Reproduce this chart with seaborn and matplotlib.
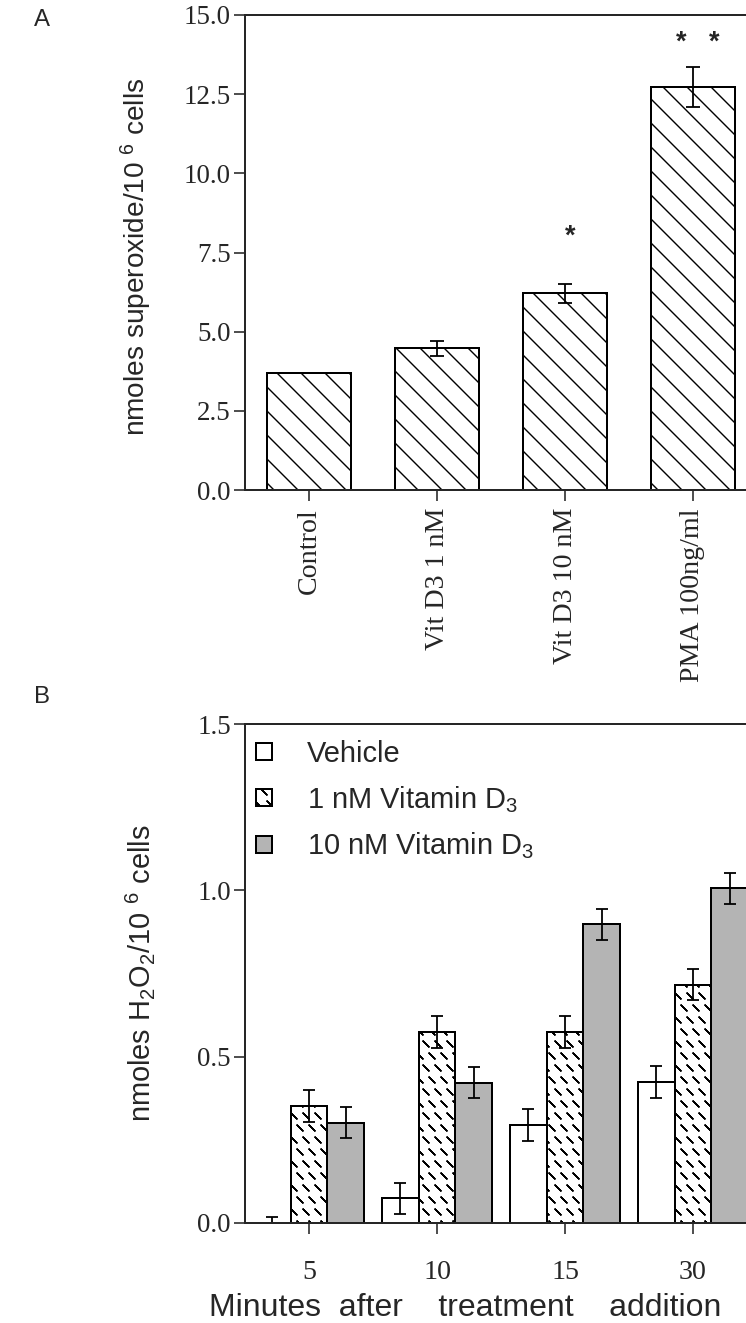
import warnings
import numpy as np
import pandas as pd
import matplotlib
matplotlib.use("Agg")
import matplotlib.pyplot as plt
import matplotlib.hatch as mhatch
from matplotlib.path import Path
from matplotlib.ticker import FormatStrFormatter
import seaborn as sns

warnings.filterwarnings("ignore")

# Panel A: superoxide production
treatments_a = ["Control", "Vit D3 1 nM", "Vit D3 10 nM", "PMA 100ng/ml"]
superoxide = [3.70, 4.47, 6.22, 12.72]
superoxide_err = [0.0, 0.24, 0.30, 0.63]
stars_a = ["", "", "*", "*   *"]
star_y = [0.0, 0.0, 8.0, 14.1]

# Panel B: H2O2 production over time
minutes = ["5", "10", "15", "30"]
groups_b = ["Vehicle", "1 nM Vitamin D$_3$", "10 nM Vitamin D$_3$"]
vehicle = [0.0, 0.074, 0.294, 0.425]
vehicle_err = [0.018, 0.047, 0.048, 0.048]
vitd_1nm = [0.352, 0.574, 0.574, 0.716]
vitd_1nm_err = [0.048, 0.048, 0.047, 0.047]
vitd_10nm = [0.302, 0.422, 0.898, 1.006]
vitd_10nm_err = [0.047, 0.047, 0.047, 0.046]


# short-dash hatch used for the 1 nM bars ("~" in the hatch string)
class DashHatch(mhatch.Shapes):
    filled = False
    size = 0.5

    def __init__(self, hatch, density):
        self.num_rows = hatch.count("~") * density
        self.shape_vertices = np.array([[-0.5, 0.5], [0.5, -0.5]])
        self.shape_codes = np.array([Path.MOVETO, Path.LINETO], dtype=Path.code_type)
        super().__init__(hatch, density)


mhatch._hatch_types.append(DashHatch)

sns.set_style("ticks")
plt.rcParams["font.family"] = ["Liberation Serif", "DejaVu Serif"]
plt.rcParams["mathtext.default"] = "regular"
plt.rcParams["hatch.linewidth"] = 1.4
SANS = ["Liberation Sans", "DejaVu Sans"]

W, H, DPI = 746, 1323, 72
fig = plt.figure(figsize=(W / DPI, H / DPI), dpi=DPI)
ax_a = fig.add_axes([245 / W, 1 - 490 / H, 512 / W, 475 / H])
ax_b = fig.add_axes([245 / W, 1 - 1223 / H, 512 / W, 499 / H])

# ---- panel A ----
df_a = pd.DataFrame({"treatment": treatments_a, "value": superoxide})
sns.barplot(data=df_a, x="treatment", y="value", color="white",
            edgecolor="black", linewidth=2, width=0.66, errorbar=None,
            saturation=1, ax=ax_a)
for bar in ax_a.patches:
    bar.set_hatch("\\")
xa = [p.get_x() + p.get_width() / 2 for p in ax_a.patches]
ax_a.errorbar(xa, superoxide, yerr=superoxide_err, fmt="none", ecolor="black",
              elinewidth=1.8, capsize=7, capthick=1.8)
for x, s, y in zip(xa, stars_a, star_y):
    if s:
        ax_a.text(x + 0.04, y, s, ha="center", va="center", fontsize=27,
                  family=SANS, fontweight="bold")

ax_a.set_xlim(-0.5, 3.5)
ax_a.set_ylim(0, 15)
ax_a.set_yticks(np.arange(0, 15.1, 2.5))
ax_a.yaxis.set_major_formatter(FormatStrFormatter("%.1f"))
ax_a.set_xticks(range(len(treatments_a)))
ax_a.set_xticklabels(treatments_a, rotation=90)
ax_a.tick_params(axis="y", direction="out", length=11, width=1.6, labelsize=27, pad=3)
ax_a.tick_params(axis="x", direction="out", length=11, width=1.6, labelsize=28, pad=7)
ax_a.set_xlabel("")
ax_a.set_ylabel("nmoles superoxide/10 $^{6}$ cells", fontsize=28, family=SANS)
ax_a.yaxis.set_label_coords(-0.178, 0.49)

# ---- panel B ----
df_b = pd.DataFrame({
    "minutes": minutes * 3,
    "group": [g for g in groups_b for _ in minutes],
    "value": vehicle + vitd_1nm + vitd_10nm,
})
sns.barplot(data=df_b, x="minutes", y="value", hue="group", order=minutes,
            hue_order=groups_b, palette=["white", "white", "#b4b4b4"],
            edgecolor="black", linewidth=2, width=0.86, errorbar=None,
            saturation=1, legend=False, ax=ax_b)
bar_sets = list(ax_b.containers)
for bar in bar_sets[1]:
    bar.set_hatch("~")

for bars, vals, errs in zip(bar_sets, [vehicle, vitd_1nm, vitd_10nm],
                            [vehicle_err, vitd_1nm_err, vitd_10nm_err]):
    xb = [p.get_x() + p.get_width() / 2 for p in bars]
    ax_b.errorbar(xb, vals, yerr=errs, fmt="none", ecolor="black",
                  elinewidth=1.8, capsize=6, capthick=1.8)

ax_b.legend([c.patches[0] for c in bar_sets], groups_b, loc="upper left",
            bbox_to_anchor=(0.022, 0.968), frameon=False, borderaxespad=0,
            borderpad=0, handlelength=0.55, handleheight=0.55,
            handletextpad=1.2, labelspacing=0.55,
            prop={"family": SANS, "size": 29})

ax_b.set_xlim(-0.5, 3.5)
ax_b.set_ylim(0, 1.5)
ax_b.set_yticks([0, 0.5, 1.0, 1.5])
ax_b.yaxis.set_major_formatter(FormatStrFormatter("%.1f"))
ax_b.tick_params(axis="y", direction="out", length=11, width=1.6, labelsize=27, pad=3)
ax_b.tick_params(axis="x", direction="out", length=11, width=1.6, labelsize=28, pad=26)
ax_b.set_xlabel("Minutes  after    treatment    addition", fontsize=32, family=SANS)
ax_b.xaxis.set_label_coords(0.43, -0.14)
ax_b.set_ylabel("nmoles H$_2$O$_2$/10 $^{6}$ cells", fontsize=29, family=SANS)
ax_b.yaxis.set_label_coords(-0.172, 0.5)

for ax in (ax_a, ax_b):
    for sp in ax.spines.values():
        sp.set_visible(True)
        sp.set_linewidth(2)

fig.text(42 / W, 1 - 20 / H, "A", ha="center", va="center", fontsize=24, family=SANS)
fig.text(42 / W, 1 - 697 / H, "B", ha="center", va="center", fontsize=24, family=SANS)

fig.savefig("out.png", dpi=DPI)
plt.close(fig)
